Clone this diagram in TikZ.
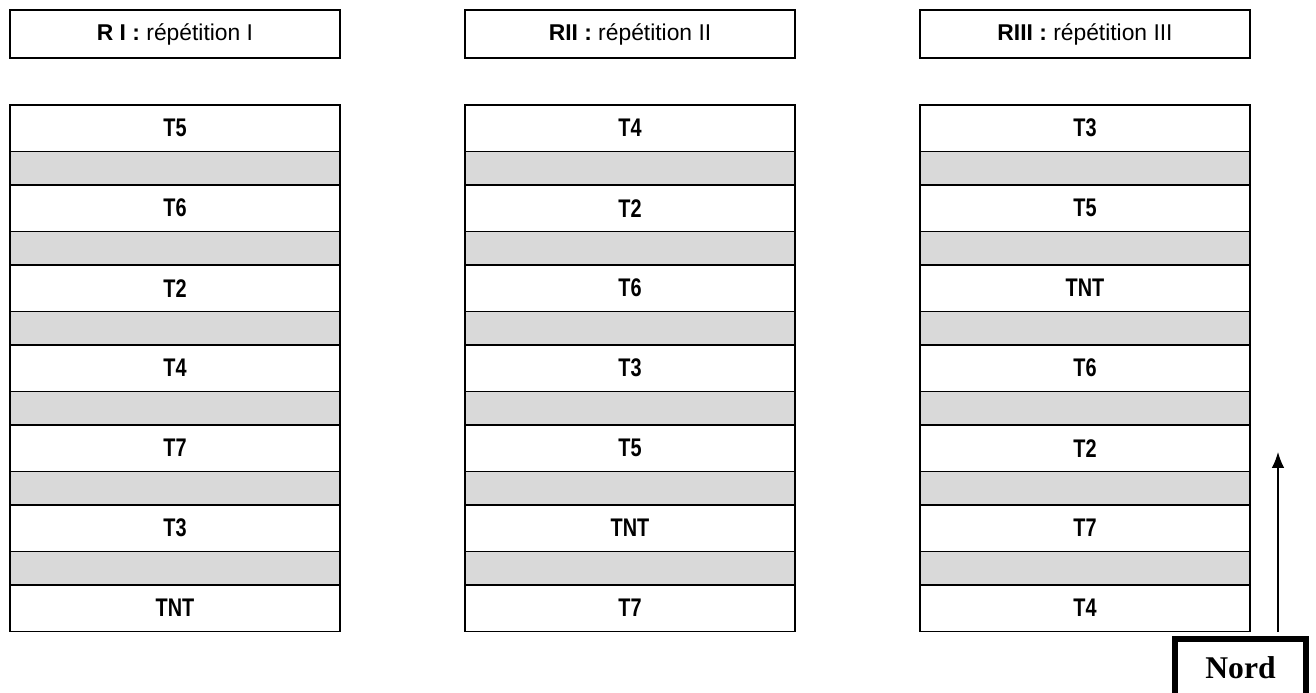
\documentclass[tikz,border=0pt]{standalone}
\usepackage{fontspec}
\setmainfont{Liberation Sans}
\newfontfamily\etroite{Liberation Sans}[FakeStretch=0.78]
\newfontfamily\romain{Liberation Serif}
\usetikzlibrary{positioning,arrows.meta}
\definecolor{allee}{HTML}{D9D9D9}
\tikzset{%
  x=0.02cm,y=-0.02cm,
  entete/.style={draw,line width=1pt,outer sep=0pt,minimum width=6.6cm,
    minimum height=0.96cm,font=\fontsize{13}{15}\selectfont},
  parcelle/.style={draw,line width=1pt,outer sep=0pt,minimum width=6.6cm,
    minimum height=0.93cm,inner sep=0pt,font=\etroite\bfseries\fontsize{14.5}{16}\selectfont},
  allee/.style={draw,line width=1pt,outer sep=0pt,fill=allee,minimum width=6.6cm,
    minimum height=0.67cm,inner sep=0pt},
  nordbox/.style={draw,line width=3pt,outer sep=0pt,inner sep=0pt,minimum width=2.62cm,
    minimum height=1.52cm,text height=0.3cm,text depth=0.22cm,
    font=\romain\bfseries\fontsize{18}{20}\selectfont},
  fleche/.style={line width=0.7pt,-{Latex[length=9pt,width=7pt]}}
}
\begin{document}
\begin{tikzpicture}
	\useasboundingbox (0,0) rectangle (1316,693);
	
	% repetitions
	\node[entete] (r1) at (175,34) {\textbf{R I :} répétition I};
	\node[entete] (r2) at (630,34) {\textbf{RII :} répétition II};
	\node[entete] (r3) at (1085,34) {\textbf{RIII :} répétition III};
	
	% parcelles et allees
	\foreach \c/\liste in {1/{T5,T6,T2,T4,T7,T3,TNT},%
		2/{T4,T2,T6,T3,T5,TNT,T7},%
		3/{T3,T5,TNT,T6,T2,T7,T4}}{
		\foreach \t [count=\i] in \liste {
			\ifnum\i=1
			\node[parcelle,below=0.94cm of r\c] (p\c-1) {\t};
			\else
			\pgfmathtruncatemacro\j{\i-1}
			\node[allee,below=0pt of p\c-\j] (a\c-\j) {};
			\node[parcelle,below=0pt of a\c-\j] (p\c-\i) {\t};
			\fi
		}
	}
	
	% orientation
	\node[nordbox,anchor=north west] (nord) at (1175,639) {Nord};
	\coordinate (pied) at (1278,632);
	\coordinate (tete) at (1278,452);
	\draw[fleche] (pied) -- (tete);
\end{tikzpicture}
\end{document}
